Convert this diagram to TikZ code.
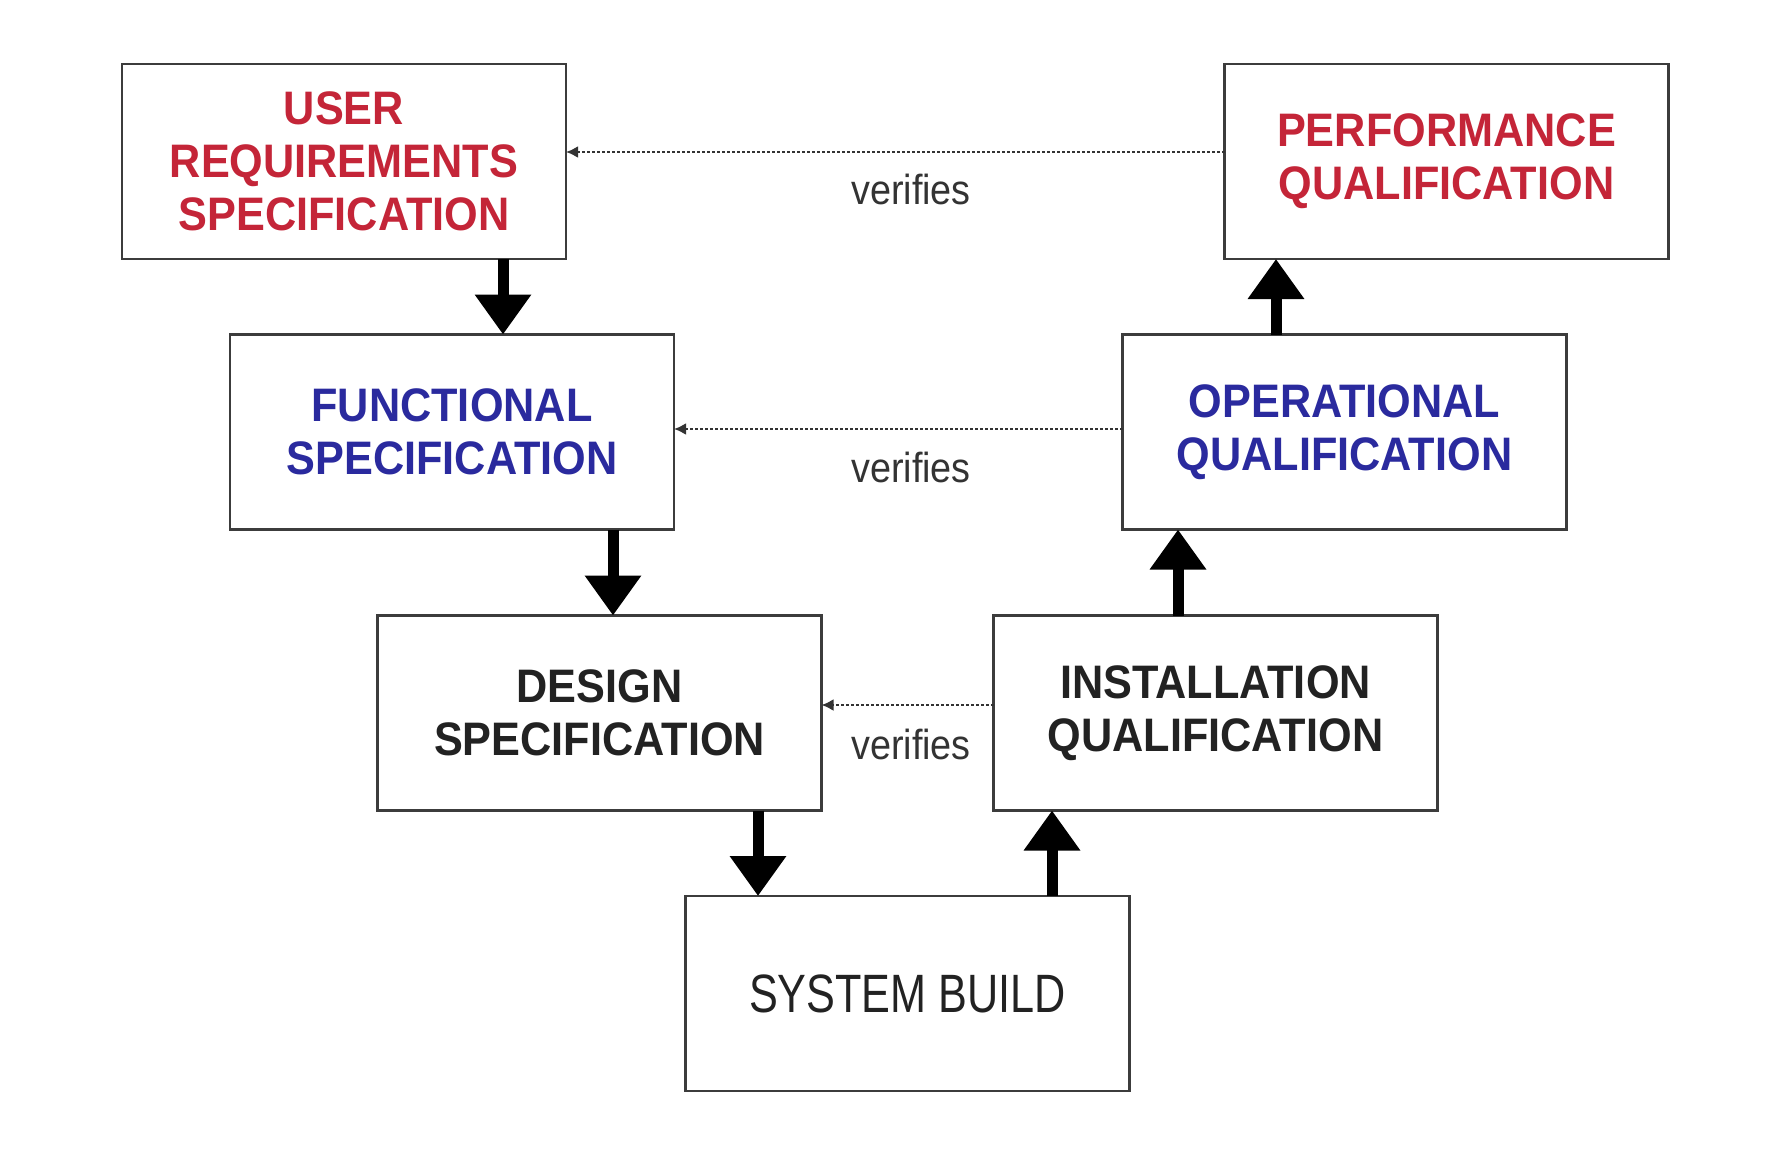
\documentclass[tikz,border=0pt]{standalone}
\usepackage{fontspec}
\setmainfont{Liberation Sans}
\newfontfamily\boxfont[FakeStretch=0.92]{Liberation Sans}
\newfontfamily\buildfont[FakeStretch=0.8]{Liberation Sans}
\newfontfamily\verfont[FakeStretch=0.9]{Liberation Sans}
\usetikzlibrary{arrows.meta}
\definecolor{ursred}{HTML}{C42538}
\definecolor{fsblue}{HTML}{2A2A9E}
\definecolor{boxline}{HTML}{3C3C3C}
\definecolor{txtdark}{HTML}{222222}
\definecolor{vergray}{HTML}{333333}
\begin{document}
\begin{tikzpicture}[x=0.5pt,y=-0.5pt,
  vbox/.style={draw=boxline,line width=1.4pt,fill=white,minimum width=222pt,minimum height=97.5pt,inner sep=0pt,outer sep=0pt,align=center},
  boldtxt/.style={font=\boxfont\bfseries\fontsize{23.5}{26.5}\selectfont},
  bigarrow/.style={line width=5.5pt,-{Triangle[width=27pt,length=20pt]}},
  verarrow/.style={draw=vergray,line width=1.1pt,dash pattern=on 1.1pt off 1.4pt,-{Latex[length=6pt,width=6pt]}},
  verlabel/.style={font=\verfont\fontsize{21}{24}\selectfont,text=vergray,inner sep=0pt}]
\useasboundingbox (0,0) rectangle (1789,1157);
\node[vbox,boldtxt,text=ursred] (urs) at (344,161.5) {USER\\REQUIREMENTS\\SPECIFICATION};
\node[vbox,boldtxt,text=ursred] (pq) at (1446.5,161.5) {PERFORMANCE\\QUALIFICATION};
\node[vbox,boldtxt,text=fsblue] (fs) at (452,432) {FUNCTIONAL\\SPECIFICATION};
\node[vbox,boldtxt,text=fsblue] (oq) at (1344.5,432) {OPERATIONAL\\QUALIFICATION};
\node[vbox,boldtxt,text=txtdark] (ds) at (599.5,713) {DESIGN\\SPECIFICATION};
\node[vbox,boldtxt,text=txtdark] (iq) at (1215.5,713) {INSTALLATION\\QUALIFICATION};
\node[vbox,text=txtdark,font=\buildfont\fontsize{27}{30}\selectfont] (sb) at (907.5,993.5) {SYSTEM BUILD};
% arrow positions
\coordinate (x1) at (503,0);
\coordinate (x2) at (613,0);
\coordinate (x3) at (758,0);
\coordinate (x4) at (1052,0);
\coordinate (x5) at (1178,0);
\coordinate (x6) at (1276,0);
\draw[bigarrow] (urs.south -| x1) -- (fs.north -| x1);
\draw[bigarrow] (fs.south -| x2) -- (ds.north -| x2);
\draw[bigarrow] (ds.south -| x3) -- (sb.north -| x3);
\draw[bigarrow] (sb.north -| x4) -- (iq.south -| x4);
\draw[bigarrow] (iq.north -| x5) -- (oq.south -| x5);
\draw[bigarrow] (oq.north -| x6) -- (pq.south -| x6);
% verifies
\coordinate (y1) at (0,152);
\coordinate (y2) at (0,429);
\coordinate (y3) at (0,705);
\draw[verarrow] (pq.west |- y1) -- (urs.east |- y1);
\draw[verarrow] (oq.west |- y2) -- (fs.east |- y2);
\draw[verarrow] (iq.west |- y3) -- (ds.east |- y3);
\node[verlabel] (v1) at (911,189) {verifies};
\node[verlabel] (v2) at (911,467) {verifies};
\node[verlabel] (v3) at (911,744) {verifies};
\end{tikzpicture}
\end{document}
